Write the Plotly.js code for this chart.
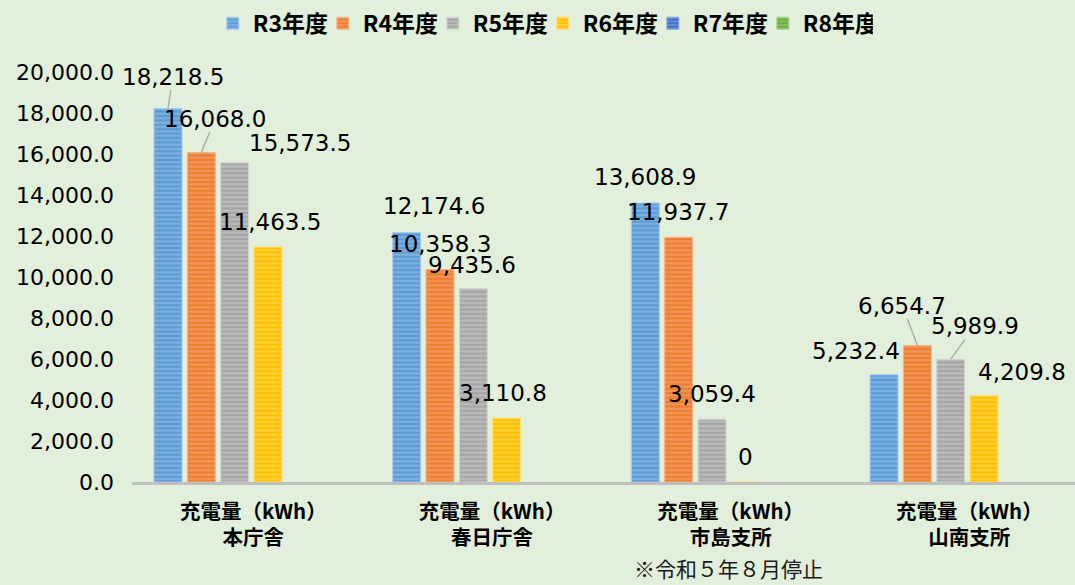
<!DOCTYPE html>
<html>
<head>
<meta charset="utf-8">
<script src="https://cdn.plot.ly/plotly-3.0.1.min.js"></script>
<style>
html,body{margin:0;padding:0;background:#e2efda;}
#chart{width:1075px;height:585px;}
</style>
</head>
<body>
<div id="chart"></div>
<script>
// ---- data ----
const metric = '充電量（kWh）';
const sites = ['本庁舎', '春日庁舎', '市島支所', '山南支所'];
const seriesNames = ['R3年度', 'R4年度', 'R5年度', 'R6年度', 'R7年度', 'R8年度'];
const R3 = [18218.5, 12174.6, 13608.9, 5232.4];
const R4 = [16068.0, 10358.3, 11937.7, 6654.7];
const R5 = [15573.5, 9435.6, 3059.4, 5989.9];
const R6 = [11463.5, 3110.8, 0, 4209.8];
const R7 = [null, null, null, null];
const R8 = [null, null, null, null];
const yTickVals = [0, 2000, 4000, 6000, 8000, 10000, 12000, 14000, 16000, 18000, 20000];
const footnote = '※令和５年８月停止';

// ---- style ----
const baseColors = ['#5b9bd5', '#ed7d31', '#a5a5a5', '#ffc000', '#4472c4', '#70ad47'];
const stripeColors = ['#a9cbee', '#f7b48a', '#d6d6d6', '#ffe07a', '#8fa9e0', '#a9d48c'];
const BARGAP = 0.162, GROUPGAP = 0.16;
// label placement relative to bar top centre (px): [dx, dy, leaderLine]
const labelPlacement = [
  [[5, -32, true], [27, -26], [0, -26], [-28, -24]],
  [[14, -34, true], [0, -26], [-1, -25], [-15, -40, true]],
  [[65, -20], [-1, -24], [0, -25], [24, -33, true]],
  [[2, -25], [-4, -25], [0, -25], [38, -24]]
];

const allSeries = [R3, R4, R5, R6, R7, R8];
const categories = sites.map(s => metric + '<br>' + s);
const nT = allSeries.length;

const traces = allSeries.map((vals, j) => ({
  type: 'bar',
  name: seriesNames[j],
  x: categories,
  y: vals,
  marker: {
    color: baseColors[j],
    line: {color: stripeColors[j], width: 1},
    pattern: {shape: '-', bgcolor: baseColors[j], fgcolor: stripeColors[j], size: 4.4, solidity: 0.45, fillmode: 'overlay'}
  },
  hoverinfo: 'skip'
}));

const fmt = new Intl.NumberFormat('en-US', {minimumFractionDigits: 1, maximumFractionDigits: 1});
const labelFont = {family: 'DejaVu Sans', size: 23, color: '#000'};
const slotW = (1 - BARGAP) / nT;
const annotations = [];
allSeries.forEach((vals, j) => {
  vals.forEach((v, i) => {
    if (v === null || v === undefined) return;
    const p = labelPlacement[j][i];
    const txt = v === 0 ? '0' : fmt.format(v);
    const xPos = i + (j - (nT - 1) / 2) * slotW;
    if (p[2]) {
      annotations.push({
        x: xPos, y: v, xref: 'x', yref: 'y', text: txt, font: labelFont,
        showarrow: true, arrowhead: 0, arrowwidth: 1.3, arrowcolor: '#a6a6a6',
        ax: p[0], ay: p[1], axref: 'pixel', ayref: 'pixel', standoff: 0, borderpad: 0
      });
    } else {
      annotations.push({
        x: xPos, y: v, xref: 'x', yref: 'y', text: txt, font: labelFont,
        showarrow: false, xshift: p[0], yshift: -p[1], xanchor: 'center', yanchor: 'middle', borderpad: 0
      });
    }
  });
});
annotations.push({
  xref: 'paper', yref: 'paper', x: 0.633, y: -0.21, text: footnote,
  showarrow: false, xanchor: 'center', yanchor: 'middle', borderpad: 0,
  font: {family: 'Noto Sans CJK JP', size: 21, color: '#1a1a1a'}
});

const layout = {
  width: 1075, height: 585,
  paper_bgcolor: '#e2efda', plot_bgcolor: '#e2efda',
  margin: {l: 132, r: 0, t: 72, b: 102.5},
  barmode: 'group', bargap: BARGAP, bargroupgap: GROUPGAP,
  showlegend: true,
  legend: {
    orientation: 'h', xref: 'container', yref: 'container',
    x: 0.198, xanchor: 'left', y: 0.997, yanchor: 'top',
    entrywidth: 65, entrywidthmode: 'pixels',
    font: {family: 'Noto Sans CJK JP', size: 23, color: '#000', weight: 700},
    bgcolor: 'rgba(0,0,0,0)', traceorder: 'normal'
  },
  xaxis: {
    type: 'category', range: [-0.5, 3.451],
    showline: true, linecolor: '#bfbfbf', linewidth: 3,
    showgrid: false, zeroline: false, ticks: '',
    tickfont: {family: 'Noto Sans CJK JP', size: 20.5, color: '#000', weight: 700},
    ticklabelstandoff: 9, ticklabelshift: 2,
    fixedrange: true
  },
  yaxis: {
    range: [0, 20000], tickvals: yTickVals, tickformat: ',.1f',
    showline: false, showgrid: false, zeroline: false, ticks: '',
    tickfont: {family: 'DejaVu Sans', size: 22, color: '#000'},
    ticklabelstandoff: 17, fixedrange: true
  },
  annotations: annotations
};

Plotly.newPlot('chart', traces, layout, {staticPlot: true, displayModeBar: false});
</script>
</body>
</html>
